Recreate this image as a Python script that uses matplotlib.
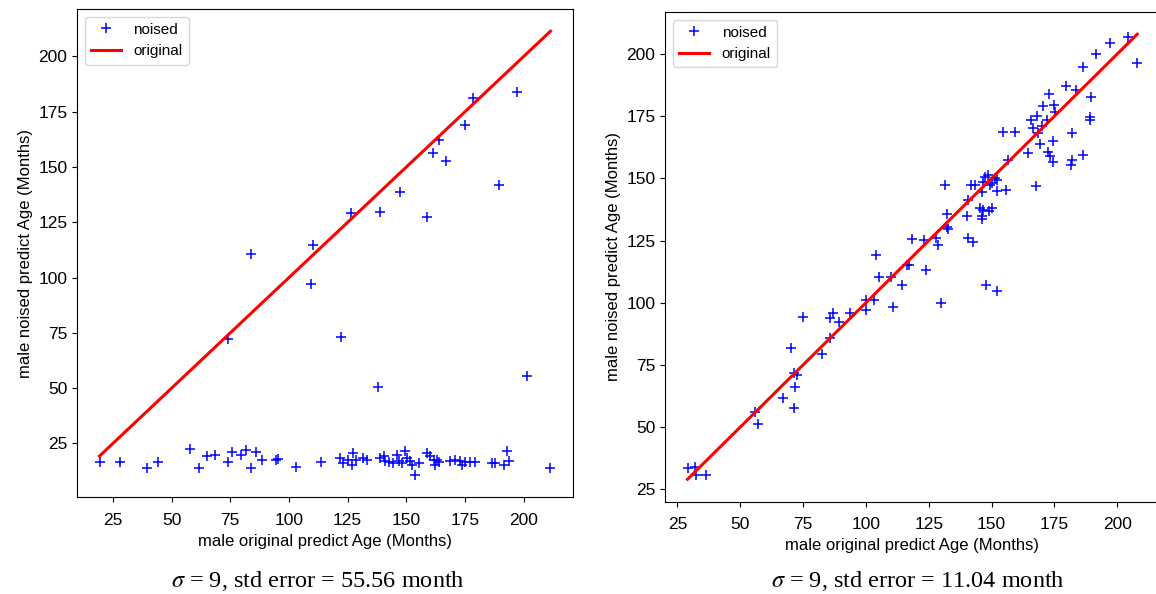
import matplotlib
matplotlib.use("Agg")
import matplotlib.pyplot as plt

plt.rcParams['font.family'] = ['Liberation Sans', 'DejaVu Sans']
plt.rcParams['mathtext.fontset'] = 'stix'

# male, original vs noised predictions, sigma = 9 (noise on the image)
orig_a = [178.4, 197.2, 174.8, 163.9, 161.2, 166.7, 189.6, 147.1, 126.5, 138.8,
          158.6, 110.4, 83.8, 109.3, 74.1, 122.2, 138.0, 201.4,
          19.3, 27.9, 39.7, 44.2, 58.0, 61.6, 65.0, 68.4, 74.1, 75.8,
          79.4, 81.6, 83.8, 85.8, 88.3, 94.4, 95.3, 103.0, 113.7,
          121.9, 123.2, 125.3, 127.2, 126.8, 128.6, 131.7, 133.2, 138.8, 140.3,
          141.0, 142.4, 144.5, 146.0, 146.7, 148.1, 149.5, 150.2, 151.6, 152.4,
          153.8, 155.2, 158.8, 160.2, 161.6, 162.3, 163.7, 163.0, 168.7, 170.8,
          173.0, 173.7, 175.1, 177.3, 179.4, 186.5, 187.9, 191.5, 192.9, 193.9,
          211.4]
noised_a = [181.3, 183.7, 168.9, 162.1, 156.3, 152.9, 142.0, 138.7, 129.3, 129.6,
            127.5, 114.7, 110.8, 96.9, 72.3, 73.3, 50.5, 55.7,
            16.4, 16.8, 13.7, 16.8, 22.5, 13.9, 19.2, 19.8, 16.7, 21.3,
            19.8, 21.9, 13.7, 21.0, 17.5, 17.3, 18.1, 14.4, 16.5,
            18.4, 16.1, 17.6, 20.7, 15.4, 17.6, 18.4, 17.6, 18.4, 19.1,
            17.2, 16.8, 16.1, 19.9, 17.2, 16.1, 21.7, 18.4, 17.2, 15.4,
            10.8, 16.1, 20.7, 19.1, 17.6, 15.4, 16.8, 17.6, 17.2, 17.6,
            17.2, 15.4, 16.8, 16.8, 16.8, 16.1, 16.1, 15.4, 21.7, 17.2,
            13.9]

# same model, noise on the prediction side
orig_b = [29.0, 32.0, 32.3, 36.3, 55.9, 57.2, 67.2, 70.1, 71.4, 71.8,
          71.4, 72.5, 75.1, 82.6, 85.8, 85.8, 86.8, 89.2, 93.6, 100.0,
          100.1, 103.1, 104.0, 105.4, 109.9, 110.7, 114.5, 116.5, 117.3, 124.1,
          129.8, 147.8, 152.3, 118.5, 123.3, 127.9, 128.9, 140.8, 142.8, 131.5,
          132.2, 132.4, 132.8, 140.3, 140.8, 141.8, 143.3, 146.1, 146.5, 146.1,
          146.4, 149.0, 150.3, 145.4, 146.8, 147.4, 148.8, 149.4, 150.1, 151.4,
          152.1, 152.1, 155.7, 156.6, 167.7, 154.7, 159.2, 164.6, 165.8, 166.7,
          168.1, 168.5, 169.3, 170.0, 170.6, 172.0, 172.6, 173.0, 173.1, 174.6,
          174.6, 174.9, 175.3, 179.7, 183.6, 181.5, 181.9, 182.2, 186.4, 186.6,
          189.2, 189.2, 189.8, 191.5, 197.2, 204.2, 208.0]
noised_b = [33.7, 34.0, 30.6, 30.9, 55.9, 51.4, 61.8, 81.9, 57.7, 66.2,
            71.6, 70.9, 94.1, 79.2, 85.8, 94.0, 95.8, 92.3, 95.7, 101.0,
            97.0, 101.2, 119.4, 110.3, 110.4, 98.4, 107.1, 115.1, 115.1, 113.3,
            99.7, 107.1, 104.8, 125.5, 125.2, 125.9, 123.4, 125.9, 124.5, 147.5,
            135.8, 130.4, 129.5, 134.8, 141.3, 147.3, 147.3, 144.6, 137.4, 134.8,
            133.5, 136.8, 138.0, 138.0, 148.7, 150.7, 151.4, 147.3, 148.0, 150.0,
            149.3, 145.0, 145.3, 157.5, 147.0, 168.8, 168.8, 160.2, 173.7, 170.2,
            175.3, 168.1, 163.7, 170.9, 179.3, 173.7, 160.7, 183.8, 159.2, 156.7,
            165.0, 179.5, 176.8, 187.3, 185.6, 155.4, 157.5, 168.3, 159.3, 194.7,
            174.6, 173.5, 182.9, 199.9, 204.3, 206.8, 196.6]

captions = [r'$\sigma$ = 9, std error = 55.56 month',
            r'$\sigma$ = 9, std error = 11.04 month']


def panel(ax, orig, noised):
    ax.plot(orig, noised, '+', color='b', markersize=7, markeredgewidth=1.1,
            label='noised')
    line = sorted(orig)
    ax.plot(line, line, color='r', linewidth=2.2, label='original')
    ax.set_xlabel('male original predict Age (Months)', fontsize=12)
    ax.set_ylabel('male noised predict Age (Months)', fontsize=12)
    ax.set_xticks([25, 50, 75, 100, 125, 150, 175, 200])
    ax.set_yticks([25, 50, 75, 100, 125, 150, 175, 200])
    ax.tick_params(labelsize=12.5)
    ax.tick_params(axis='x', pad=8)
    ax.legend(loc='upper left', fontsize=11)


def main():
    fig = plt.figure(figsize=(11.56, 5.94), dpi=100)
    ax1 = fig.add_axes([0.0666, 0.1633, 0.4291, 0.8215])
    ax2 = fig.add_axes([0.5753, 0.1557, 0.4279, 0.8241])

    panel(ax1, orig_a, noised_a)
    panel(ax2, orig_b, noised_b)

    fig.text(0.275, 0.011, captions[0], ha='center', va='baseline',
             fontsize=17.5, family='Liberation Serif')
    fig.text(0.794, 0.011, captions[1], ha='center', va='baseline',
             fontsize=17.5, family='Liberation Serif')

    fig.savefig('out.png', dpi=100)


if __name__ == "__main__":
    main()
